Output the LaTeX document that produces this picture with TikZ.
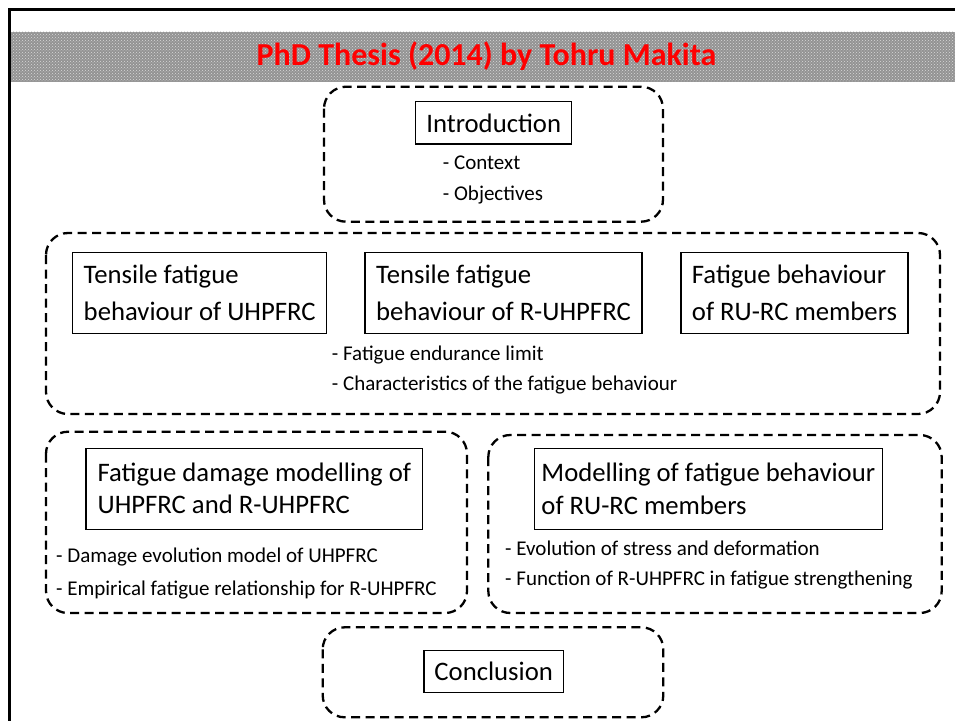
\documentclass[tikz,border=0pt]{standalone}
\usepackage{fontspec}
\setmainfont{Carlito}
\usetikzlibrary{patterns}
\tikzset{
  grp/.style={line width=2.3pt, dash pattern=on 9pt off 5.5pt, rounded corners=22pt},
  tbox/.style={draw, line width=1.4pt, inner sep=0pt, align=left},
  boxfont/.style={font=\fontsize{26.7}{37}\selectfont},
  boxfontb/.style={font=\fontsize{26.7}{32}\selectfont},
  bul/.style={anchor=base west, inner sep=0pt, font=\fontsize{21}{24}\selectfont},
}
\begin{document}
\begin{tikzpicture}[x=1pt,y=-1pt]
\useasboundingbox (0,0) rectangle (955,720);
\fill[white] (0,0) rectangle (955,720);
% header band
\fill[gray!85] (10,31.7) rectangle (960,81.7);
\fill[pattern=crosshatch dots, pattern color=white!70!gray] (10,31.7) rectangle (960,81.7);
% frame
\draw[line width=3pt] (9,730) -- (9,9.3) -- (965,9.3);
\node[anchor=base, inner sep=0pt, text=red, font=\fontsize{32}{36}\selectfont\bfseries] (title) at (486.5,65) {PhD Thesis (2014) by Tohru Makita};

% group frames
\draw[grp] (324,86.7) rectangle (663,221.7);
\draw[grp] (46,233) rectangle (940,414);
\draw[grp] (46,431.7) rectangle (467,613);
\draw[grp] (488.3,435) rectangle (941.7,613);
\draw[grp] (322.7,627.3) rectangle (663.3,717.3);

% boxes
\node[tbox, boxfont, align=center, minimum width=156pt, minimum height=42.3pt] (intro) at (493.7,122.9) {Introduction};
\node[tbox, boxfont, minimum width=254pt, minimum height=81pt] (b1) at (199.7,292.8) {Tensile fatigue\\behaviour of UHPFRC};
\node[tbox, boxfont, minimum width=277pt, minimum height=81pt] (b2) at (503.5,292.8) {Tensile fatigue\\behaviour of R-UHPFRC};
\node[tbox, boxfont, minimum width=227pt, minimum height=81pt] (b3) at (794.5,292.8) {Fatigue behaviour\\of RU-RC members};
\node[tbox, boxfontb, minimum width=336.7pt, minimum height=81pt] (dm) at (254.35,488.8) {Fatigue damage modelling of\\UHPFRC and R-UHPFRC};
\node[tbox, font=\fontsize{26.7}{33.4}\selectfont, minimum width=348pt, minimum height=81pt] (mf) at (708.3,488.8) {Modelling of fatigue behaviour\\of RU-RC members};
\node[tbox, boxfont, align=center, minimum width=139.3pt, minimum height=42pt] (concl) at (493.7,671.7) {Conclusion};

% bullets
\node[bul] (i1) at (442.7,169.3) {- Context};
\node[bul] (i2) at (442.7,200) {- Objectives};
\node[bul] (m1) at (331.7,360) {- Fatigue endurance limit};
\node[bul] (m2) at (331.7,390) {- Characteristics of the fatigue behaviour};
\node[bul] (l1) at (56,562.7) {- Damage evolution model of UHPFRC};
\node[bul] (l2) at (56,595) {- Empirical fatigue relationship for R-UHPFRC};
\node[bul] (r1) at (505,555) {- Evolution of stress and deformation};
\node[bul] (r2) at (505,585.7) {- Function of R-UHPFRC in fatigue strengthening};
\end{tikzpicture}
\end{document}
